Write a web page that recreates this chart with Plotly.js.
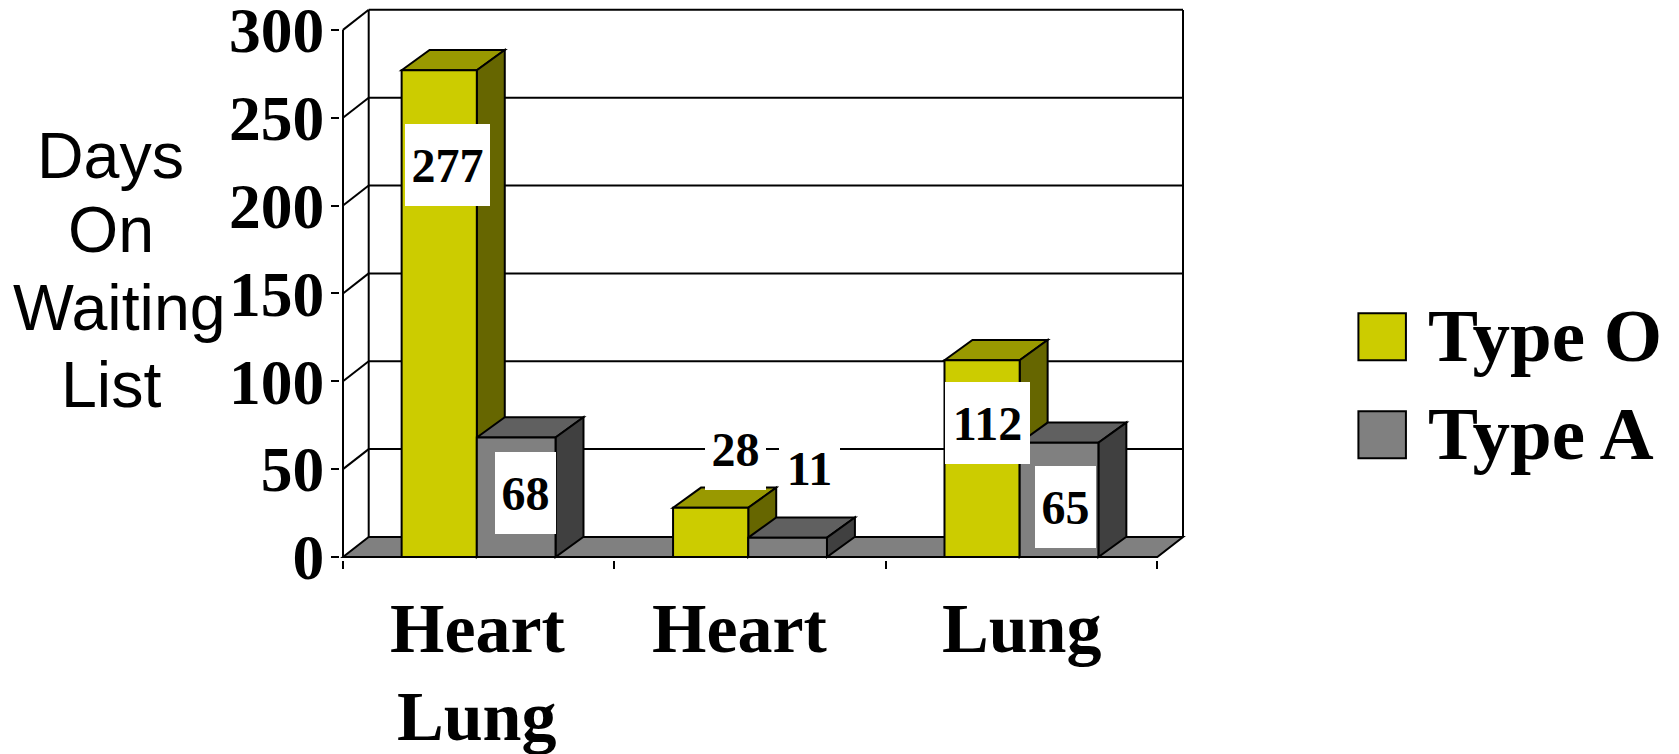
<!DOCTYPE html>
<html>
<head>
<meta charset="utf-8">
<script src="https://cdn.plot.ly/plotly-3.0.1.min.js"></script>
<style>html,body{margin:0;padding:0;background:#fff}#chart{width:1679px;height:754px}</style>
</head>
<body>
<div id="chart"></div>
<script>
// ---- data ----
const categories = ["Heart<br>Lung", "Heart", "Lung"];
const categoryPositions = [0.5, 1.5, 2.5];
const typeO = [277, 28, 112];
const typeA = [68, 11, 65];
const yTicks = [0, 50, 100, 150, 200, 250, 300];
const yTitleLines = ["Days", "On", "Waiting", "List"];
const seriesNames = ["Type O", "Type A"];

// ---- geometry (pixels of the plot frame) ----
const X0 = 343.2, PXX = 271.4, Y0 = 557.3, PXY = 87.9 / 50, PAD = 3;
const WALL_DX = 0.0947, WALL_DY = 11.4, WALL_TOP = 311.3;
const BAR_DX = 0.103, BAR_DY = 11.5;
const GROUP = 0.567, BAR_W = GROUP / 2;
const O_LEFT = -0.284, MID = -0.007, A_RIGHT = 0.283;
const SERIF = '"Liberation Serif", "Times New Roman", serif';
const SANS = '"Liberation Sans", Arial, sans-serif';
const COL = {
  O: {front: "#CCCC00", top: "#999900", side: "#666600"},
  A: {front: "#808080", top: "#606060", side: "#404040"},
  floor: "#808080"
};
const LINE = {color: "#000", width: 2};
const BAR_LINE = {color: "#000", width: 2};

const xRange = [-PAD / PXX, 3 + WALL_DX + PAD / PXX];
const yRange = [-PAD / PXY, WALL_TOP + PAD / PXY];
const plotL = X0 - PAD, plotR = X0 + PXX * xRange[1];
const plotT = Y0 - PXY * yRange[1], plotB = Y0 + PAD;
const px = v => (v - plotL) / (plotR - plotL);
const py = v => (plotB - v) / (plotB - plotT);

const poly = (pts, fill) => ({
  type: "path", xref: "x", yref: "y", layer: "below",
  path: "M" + pts.map(p => p[0] + " " + p[1]).join("L") + "Z",
  fillcolor: fill, line: LINE
});
const seg = (x1, y1, x2, y2) => ({
  type: "line", xref: "x", yref: "y", layer: "below",
  x0: x1, y0: y1, x1: x2, y1: y2, line: LINE
});

const shapes = [];
// back wall
shapes.push(seg(WALL_DX, WALL_DY, WALL_DX, WALL_TOP));
shapes.push(seg(3 + WALL_DX, WALL_DY, 3 + WALL_DX, WALL_TOP));
// grid lines, with their diagonal on the side wall
yTicks.forEach(v => {
  if (v > 0) {
    shapes.push(seg(0, v, WALL_DX, v + WALL_DY));
    shapes.push(seg(WALL_DX, v + WALL_DY, 3 + WALL_DX, v + WALL_DY));
  }
});
// floor
shapes.push(poly([[0, 0], [WALL_DX, WALL_DY], [3 + WALL_DX, WALL_DY], [3, 0]], COL.floor));
// front-left axis line
shapes.push(seg(0, 0, 0, 300));

// extruded tops and sides
function extrude(x1, x2, v, c) {
  shapes.push(poly([[x1, v], [x1 + BAR_DX, v + BAR_DY], [x2 + BAR_DX, v + BAR_DY], [x2, v]], c.top));
  shapes.push(poly([[x2, 0], [x2, v], [x2 + BAR_DX, v + BAR_DY], [x2 + BAR_DX, BAR_DY]], c.side));
}
categoryPositions.forEach((c, i) => {
  extrude(c + O_LEFT, c + MID, typeO[i], COL.O);
  extrude(c + MID, c + A_RIGHT, typeA[i], COL.A);
});

// value labels: offset in pixels from the top centre of each bar
const oShift = [[7, -95.2], [23.7, 59], [4.3, -62.6]];
const aShift = [[8.2, -55.2], [20.8, 70], [5.4, -64]];
const annotations = [];
function valueLabel(x, v, shift) {
  const text = String(v);
  annotations.push({
    xref: "x", yref: "y", x: x, y: v, xanchor: "center", yanchor: "middle",
    xshift: shift[0], yshift: shift[1], showarrow: false, text: text,
    width: text.length === 3 ? 85 : 61, height: 82,
    bgcolor: "#fff", borderpad: 0, borderwidth: 0,
    font: {family: SERIF, size: 48, color: "#000", weight: 700}
  });
}
categoryPositions.forEach((c, i) => {
  valueLabel(c - BAR_W / 2, typeO[i], oShift[i]);
  valueLabel(c + BAR_W / 2, typeA[i], aShift[i]);
});

// category labels, one annotation per text row
const catShift = [-1.5, -10.5, 0.5];
categories.forEach((t, i) => {
  t.split("<br>").forEach((row, r) => {
    annotations.push({
      xref: "x", yref: "paper", x: categoryPositions[i], y: py(588 + r * 88), xanchor: "center", yanchor: "top",
      xshift: catShift[i], showarrow: false, text: row, align: "center",
      font: {family: SERIF, size: 70, color: "#000", weight: 700}
    });
  });
});

// vertical title, one line per row
const yTitleRows = [156, 230.4, 308, 385.6];
const yTitleCols = [111, 111, 120, 111];
yTitleLines.forEach((t, i) => {
  annotations.push({
    xref: "paper", yref: "paper", x: px(yTitleCols[i]), y: py(yTitleRows[i]), xanchor: "center", yanchor: "middle",
    showarrow: false, text: t,
    font: {family: SANS, size: 64.5, color: "#000"}
  });
});

// legend
const legendY = [337, 435];
const legendCols = [COL.O.front, COL.A.front];
seriesNames.forEach((n, i) => {
  shapes.push({
    type: "rect", xref: "paper", yref: "paper", layer: "above",
    x0: px(1358.5), x1: px(1406), y0: py(legendY[i] - 23.5), y1: py(legendY[i] + 23.5),
    fillcolor: legendCols[i], line: LINE
  });
  annotations.push({
    xref: "paper", yref: "paper", x: px(1426), y: py(legendY[i] - 1), xanchor: "left", yanchor: "middle",
    showarrow: false, text: n,
    font: {family: SERIF, size: 75, color: "#000", weight: 700}
  });
});

const traces = [
  {type: "bar", name: seriesNames[0], x: categoryPositions, y: typeO,
   width: MID - O_LEFT, offset: O_LEFT,
   marker: {color: COL.O.front, line: BAR_LINE}, hoverinfo: "x+y"},
  {type: "bar", name: seriesNames[1], x: categoryPositions, y: typeA,
   width: A_RIGHT - MID, offset: MID,
   marker: {color: COL.A.front, line: BAR_LINE}, hoverinfo: "x+y"}
];

const layout = {
  width: 1679, height: 754, autosize: false,
  paper_bgcolor: "#fff", plot_bgcolor: "#fff", showlegend: false,
  margin: {l: plotL, r: 1679 - plotR, t: plotT, b: 754 - plotB, pad: 0},
  barmode: "overlay",
  xaxis: {
    type: "linear", range: xRange, tickmode: "array", tickvals: [0, 1, 2, 3],
    ticktext: ["", "", "", ""], ticks: "outside", ticklen: 8, tickwidth: 2, tickcolor: "#000",
    showgrid: false, zeroline: false, showline: false
  },
  yaxis: {
    range: yRange, tickmode: "array", tickvals: yTicks, ticks: "outside",
    ticklen: 8, tickwidth: 2, tickcolor: "#000",
    ticklabeloverflow: "allow", ticklabelstandoff: -6,
    tickfont: {family: SERIF, size: 63.5, color: "#000", weight: 700},
    showgrid: false, zeroline: false, showline: false
  },
  shapes: shapes,
  annotations: annotations
};

Plotly.newPlot("chart", traces, layout, {displayModeBar: false, staticPlot: true});
</script>
</body>
</html>
